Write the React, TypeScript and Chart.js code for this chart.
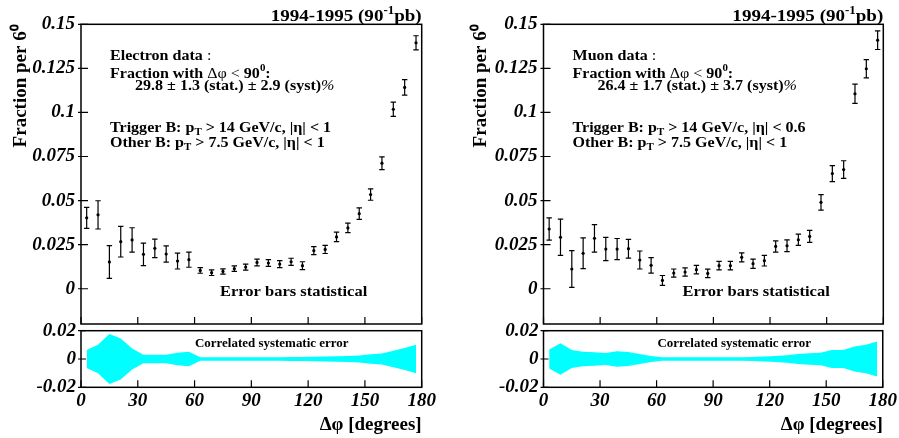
import React, { useEffect, useRef } from "react";
import { Chart, registerables } from "chart.js";
Chart.register(...registerables);

// ---------- data ----------
const X_CENTERS = [3, 9, 15, 21, 27, 33, 39, 45, 51, 57, 63, 69, 75, 81, 87, 93, 99, 105, 111, 117, 123, 129, 135, 141, 147, 153, 159, 165, 171, 177];

const ELECTRON_FRAC = [0.0402, 0.0419, 0.0152, 0.0267, 0.0277, 0.0195, 0.0229, 0.0197, 0.0157, 0.0165, 0.0104, 0.0091, 0.0098, 0.0114, 0.0123, 0.0149, 0.0146, 0.014, 0.0153, 0.0131, 0.0216, 0.0223, 0.0294, 0.0345, 0.0426, 0.0534, 0.0712, 0.1018, 0.1142, 0.1395];
const ELECTRON_STAT = [0.006, 0.008, 0.0093, 0.0087, 0.0069, 0.0064, 0.0052, 0.0046, 0.0045, 0.0043, 0.0016, 0.0016, 0.0015, 0.0016, 0.0017, 0.0019, 0.0019, 0.002, 0.002, 0.0022, 0.0023, 0.0023, 0.0027, 0.0027, 0.0033, 0.0032, 0.0036, 0.004, 0.0044, 0.004];
const ELECTRON_SYST = [0.0064, 0.01, 0.0176, 0.0145, 0.0075, 0.003, 0.003, 0.003, 0.0045, 0.0052, 0.0013, 0.0013, 0.0013, 0.0013, 0.0013, 0.0012, 0.0012, 0.0013, 0.0014, 0.0015, 0.0016, 0.0017, 0.0019, 0.0022, 0.0025, 0.0033, 0.0038, 0.0058, 0.0078, 0.01];

const MUON_FRAC = [0.0339, 0.0292, 0.0112, 0.0201, 0.0286, 0.0225, 0.0225, 0.0227, 0.0163, 0.0133, 0.0047, 0.0089, 0.0095, 0.0108, 0.0087, 0.0131, 0.0131, 0.0178, 0.0142, 0.0159, 0.024, 0.0244, 0.0278, 0.0297, 0.049, 0.0653, 0.0676, 0.1106, 0.1248, 0.141];
const MUON_STAT = [0.0063, 0.0103, 0.0104, 0.0087, 0.0078, 0.0066, 0.006, 0.0053, 0.0051, 0.0044, 0.0028, 0.0023, 0.0023, 0.0024, 0.0024, 0.0024, 0.0024, 0.0026, 0.0026, 0.003, 0.0032, 0.0033, 0.0032, 0.0034, 0.0044, 0.0045, 0.005, 0.0055, 0.0052, 0.0053];
const MUON_SYST = [0.0067, 0.0112, 0.0064, 0.0052, 0.0048, 0.0043, 0.0055, 0.005, 0.0036, 0.0021, 0.0012, 0.0013, 0.0013, 0.0013, 0.0013, 0.0013, 0.0013, 0.0013, 0.0014, 0.0017, 0.0021, 0.0026, 0.0036, 0.0041, 0.0045, 0.0064, 0.0064, 0.0088, 0.01, 0.0124];

const X_TICKS = [0, 30, 60, 90, 120, 150, 180];
const X_LABELS = ["0", "30", "60", "90", "120", "150", "180"];
const MAIN_Y_TICKS = [0, 0.025, 0.05, 0.075, 0.1, 0.125, 0.15];
const MAIN_Y_LABELS = ["0", "0.025", "0.05", "0.075", "0.1", "0.125", "0.15"];
const BAND_Y_TICKS = [-0.02, 0, 0.02];
const BAND_Y_LABELS = ["-0.02", "0", "0.02"];

const Y_TITLE = "Fraction per 6\u2070";
const X_TITLE = "\u0394\u03c6 [degrees]";
const HEADER = "1994-1995 (90";

// ---------- helpers ----------
const SERIF = '"Liberation Serif", "Times New Roman", serif';

type Seg = { t: string; sup?: boolean; sub?: boolean; w?: string; it?: boolean };
type TextItem = { anchor: "left" | "right"; dx: number; dy: number; size: number; sx: number; segs: Seg[] };

function drawRich(ctx: CanvasRenderingContext2D, x: number, y: number, segs: Seg[], size: number, align: "left" | "right", sx: number) {
  const fontFor = (s: Seg) => `${s.it ? "italic " : ""}${s.w ?? "bold"} ${s.sup || s.sub ? size * 0.68 : size}px ${SERIF}`;
  const widths = segs.map((s) => {
    ctx.font = fontFor(s);
    return ctx.measureText(s.t).width;
  });
  const total = widths.reduce((a, b) => a + b, 0);
  ctx.save();
  ctx.translate(x, y);
  ctx.scale(sx, 1);
  ctx.textBaseline = "alphabetic";
  ctx.textAlign = "left";
  let cx = align === "right" ? -total : 0;
  segs.forEach((s, i) => {
    ctx.font = fontFor(s);
    const dy = s.sup ? -size * 0.42 : s.sub ? size * 0.25 : 0;
    ctx.fillText(s.t, cx, dy);
    cx += widths[i];
  });
  ctx.restore();
}

function makeOverlay(cfg: {
  vals?: number[];
  errs?: number[];
  yOut: number;
  yIn: number;
  xIn: number;
  texts: TextItem[];
}) {
  return {
    id: "overlay",
    afterDatasetsDraw(chart: any) {
      const { ctx, chartArea: a, scales } = chart;
      const xs = scales.x;
      const ys = scales.y;
      ctx.save();
      ctx.strokeStyle = "#000";
      ctx.fillStyle = "#000";
      if (cfg.vals && cfg.errs) {
        ctx.lineWidth = 1.2;
        cfg.vals.forEach((v, i) => {
          const e = cfg.errs![i];
          const px = xs.getPixelForValue(X_CENTERS[i]);
          const p1 = ys.getPixelForValue(v - e);
          const p2 = ys.getPixelForValue(v + e);
          ctx.beginPath();
          ctx.moveTo(px, p1);
          ctx.lineTo(px, p2);
          ctx.moveTo(px - 2.7, p1);
          ctx.lineTo(px + 2.7, p1);
          ctx.moveTo(px - 2.7, p2);
          ctx.lineTo(px + 2.7, p2);
          ctx.stroke();
        });
      }
      ctx.lineWidth = 1.5;
      ctx.strokeRect(a.left, a.top, a.right - a.left, a.bottom - a.top);
      ctx.lineWidth = 1.2;
      ctx.beginPath();
      ys.ticks.forEach((t: any) => {
        const py = ys.getPixelForValue(t.value);
        ctx.moveTo(a.left - cfg.yOut, py);
        ctx.lineTo(a.left + cfg.yIn, py);
      });
      xs.ticks.forEach((t: any) => {
        const px = xs.getPixelForValue(t.value);
        ctx.moveTo(px, a.bottom);
        ctx.lineTo(px, a.bottom - cfg.xIn);
      });
      ctx.stroke();
      cfg.texts.forEach((tx) => {
        const x = (tx.anchor === "left" ? a.left : a.right) + tx.dx;
        drawRich(ctx, x, a.top + tx.dy, tx.segs, tx.size, tx.anchor, tx.sx);
      });
      ctx.restore();
    },
  };
}

const tickFont = { family: SERIF, size: 19, weight: "bold" as const, style: "italic" as const };

function setTicks(list: number[]) {
  return (s: any) => {
    s.ticks = list.map((v) => ({ value: v }));
  };
}

function mainTexts(kind: "e" | "mu"): TextItem[] {
  const sz = 15;
  const sx = 1.07;
  return [
    { anchor: "right", dx: 0, dy: -3.6, size: 17, sx: 1.12, segs: [{ t: HEADER }, { t: "-1", sup: true }, { t: "pb)" }] },
    { anchor: "left", dx: 29, dy: 35.7, size: sz, sx, segs: [{ t: kind === "e" ? "Electron data" : "Muon data" }, { t: " :", w: "normal" }] },
    { anchor: "left", dx: 29, dy: 53.2, size: sz, sx, segs: [{ t: "Fraction with " }, { t: "\u0394\u03c6 < ", w: "normal" }, { t: "90" }, { t: "0", sup: true }, { t: ":" }] },
    {
      anchor: "left", dx: 54, dy: 65.2, size: sz, sx,
      segs: kind === "e"
        ? [{ t: "29.8 \u00b1 1.3 (stat.) \u00b1 2.9 (syst)" }, { t: "%", w: "normal", it: true }]
        : [{ t: "26.4 \u00b1 1.7 (stat.) \u00b1 3.7 (syst)" }, { t: "%", w: "normal", it: true }],
    },
    { anchor: "left", dx: 29, dy: 107.3, size: sz, sx, segs: [{ t: "Trigger B: p" }, { t: "T", sub: true }, { t: kind === "e" ? " > 14 GeV/c, |\u03b7| < 1" : " > 14 GeV/c, |\u03b7| < 0.6" }] },
    { anchor: "left", dx: 29, dy: 122.3, size: sz, sx, segs: [{ t: "Other B: p" }, { t: "T", sub: true }, { t: " > 7.5 GeV/c, |\u03b7| < 1" }] },
    { anchor: "left", dx: 139, dy: 271.3, size: 15, sx: 1.1, segs: [{ t: "Error bars statistical" }] },
  ];
}

type PanelCfg = { left: number; width: number; padLeft: number; axisW: number; padRight: number };

const MAIN_H = 342;

function MainChart({ p, vals, errs, kind }: { p: PanelCfg; vals: number[]; errs: number[]; kind: "e" | "mu" }) {
  const ref = useRef<HTMLCanvasElement>(null);
  useEffect(() => {
    const chart = new Chart(ref.current!, {
      type: "scatter",
      data: {
        datasets: [
          {
            data: X_CENTERS.map((x, i) => ({ x, y: vals[i] })),
            pointRadius: 1.6,
            pointBackgroundColor: "#000",
            pointBorderWidth: 0,
            showLine: false,
          },
        ],
      },
      options: {
        responsive: false,
        animation: false,
        events: [],
        layout: { padding: { left: p.padLeft, top: 24.3, right: p.padRight, bottom: MAIN_H - 324 } },
        plugins: { legend: { display: false }, tooltip: { enabled: false } },
        scales: {
          x: {
            type: "linear",
            min: 0,
            max: 180,
            afterBuildTicks: setTicks(X_TICKS),
            ticks: { display: false },
            grid: { display: false, drawTicks: false },
            border: { display: false },
            afterFit: (s: any) => {
              s.height = 0;
            },
          },
          y: {
            type: "linear",
            min: -0.02,
            max: 0.15,
            afterBuildTicks: setTicks(MAIN_Y_TICKS),
            ticks: {
              autoSkip: false,
              padding: 6,
              color: "#000",
              font: tickFont,
              callback: (v: any) => MAIN_Y_LABELS[MAIN_Y_TICKS.indexOf(Number(v))] ?? "",
            },
            grid: { display: false, drawTicks: false },
            border: { display: false },
            title: { display: true, text: Y_TITLE, align: "end", color: "#000", padding: 0, font: { family: SERIF, size: 19, weight: "bold" } },
            afterFit: (s: any) => {
              s.width = p.axisW;
            },
          },
        },
      } as any,
      plugins: [makeOverlay({ vals, errs, yOut: 3, yIn: 7, xIn: 7, texts: mainTexts(kind) })],
    });
    return () => chart.destroy();
  }, []);
  return <canvas ref={ref} width={p.width} height={MAIN_H} style={{ position: "absolute", left: p.left, top: 0, width: p.width, height: MAIN_H }} />;
}

function BandChart({ p, syst }: { p: PanelCfg; syst: number[] }) {
  const ref = useRef<HTMLCanvasElement>(null);
  useEffect(() => {
    const chart = new Chart(ref.current!, {
      type: "line",
      data: {
        datasets: [
          {
            data: X_CENTERS.map((x, i) => ({ x, y: syst[i] })),
            fill: "+1",
            backgroundColor: "#00ffff",
            borderColor: "rgba(0,0,0,0)",
            borderWidth: 1,
            pointRadius: 0,
            tension: 0,
          },
          {
            data: X_CENTERS.map((x, i) => ({ x, y: -syst[i] })),
            fill: false,
            borderColor: "rgba(0,0,0,0)",
            borderWidth: 1,
            pointRadius: 0,
            tension: 0,
          },
        ],
      },
      options: {
        responsive: false,
        animation: false,
        events: [],
        layout: { padding: { left: p.padLeft, top: 30.7, right: p.padRight, bottom: 0 } },
        plugins: { legend: { display: false }, tooltip: { enabled: false } },
        scales: {
          x: {
            type: "linear",
            min: 0,
            max: 180,
            afterBuildTicks: setTicks(X_TICKS),
            ticks: {
              autoSkip: false,
              maxRotation: 0,
              minRotation: 0,
              padding: 2,
              color: "#000",
              font: tickFont,
              callback: (v: any) => X_LABELS[X_TICKS.indexOf(Number(v))] ?? "",
            },
            grid: { display: false, drawTicks: false },
            border: { display: false },
            title: { display: true, text: X_TITLE, align: "end", color: "#000", padding: { top: 0, bottom: 2 }, font: { family: SERIF, size: 19, weight: "bold" } },
            afterFit: (s: any) => {
              s.height = 50.7;
            },
          },
          y: {
            type: "linear",
            min: -0.02,
            max: 0.02,
            afterBuildTicks: setTicks(BAND_Y_TICKS),
            ticks: {
              autoSkip: false,
              padding: 5,
              color: "#000",
              font: tickFont,
              callback: (v: any) => BAND_Y_LABELS[BAND_Y_TICKS.indexOf(Number(v))] ?? "",
            },
            grid: { display: false, drawTicks: false },
            border: { display: false },
            afterFit: (s: any) => {
              s.width = p.axisW;
            },
          },
        },
      } as any,
      plugins: [
        makeOverlay({
          yOut: 3,
          yIn: 5,
          xIn: 7,
          texts: [{ anchor: "left", dx: 114, dy: 16, size: 12, sx: 1.08, segs: [{ t: "Correlated systematic error" }] }],
        }),
      ],
    });
    return () => chart.destroy();
  }, []);
  return <canvas ref={ref} width={p.width} height={138} style={{ position: "absolute", left: p.left, top: 300, width: p.width, height: 138 }} />;
}

const LEFT_PANEL: PanelCfg = { left: 0, width: 450, padLeft: 10, axisW: 71, padRight: 28.3 };
const RIGHT_PANEL: PanelCfg = { left: 450, width: 449, padLeft: 20, axisW: 73.5, padRight: 15.7 };

export default function App() {
  return (
    <div style={{ position: "absolute", left: 0, top: 0, width: 899, height: 438, background: "#fff", overflow: "hidden" }}>
      <MainChart p={LEFT_PANEL} vals={ELECTRON_FRAC} errs={ELECTRON_STAT} kind="e" />
      <BandChart p={LEFT_PANEL} syst={ELECTRON_SYST} />
      <MainChart p={RIGHT_PANEL} vals={MUON_FRAC} errs={MUON_STAT} kind="mu" />
      <BandChart p={RIGHT_PANEL} syst={MUON_SYST} />
    </div>
  );
}
